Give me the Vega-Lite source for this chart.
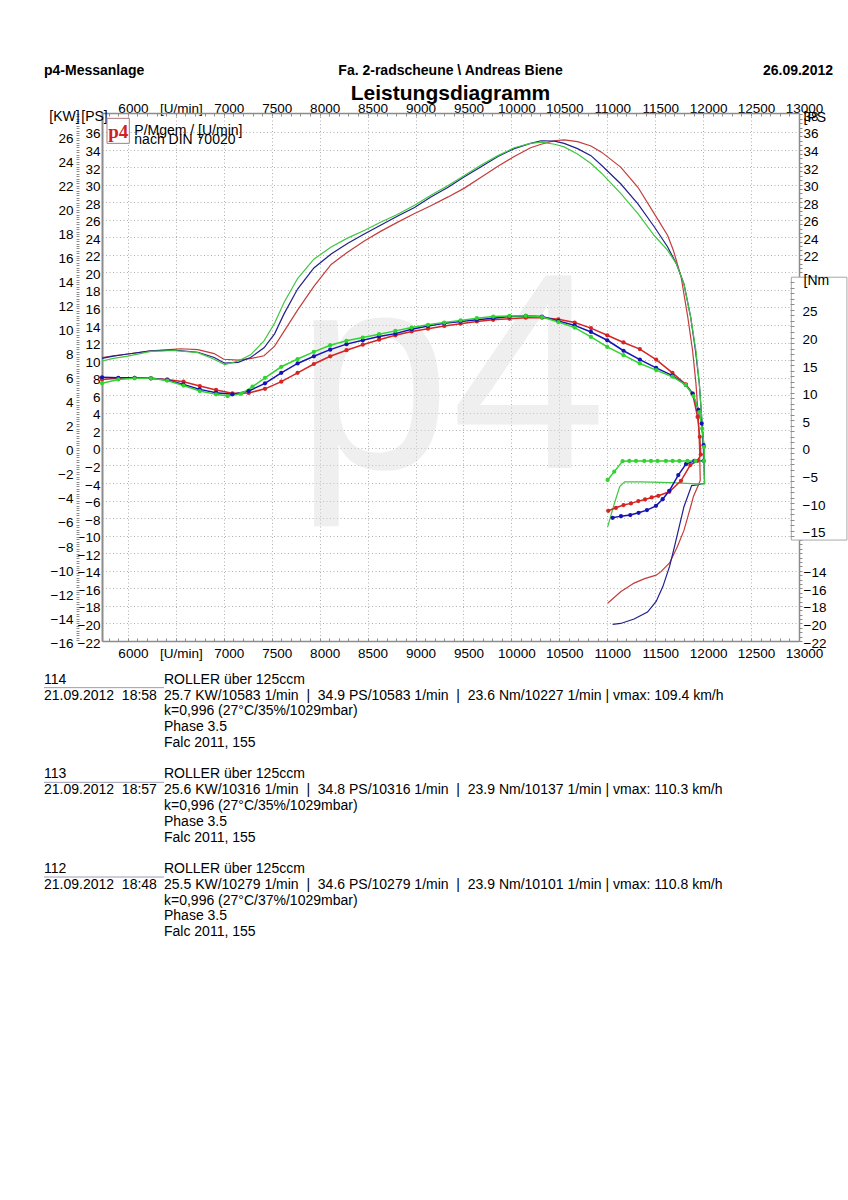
{
"$schema": "https://vega.github.io/schema/vega-lite/v6.json",
"padding": {"left": 43, "top": 55, "right": 0, "bottom": 5},
"background": "white",
"spacing": 23,
"bounds": "flush",
"config": {
  "view": {"stroke": null},
  "font": "Liberation Sans",
  "axis": {"labelFont": "Liberation Sans", "labelFontSize": 13.5, "labelColor": "#000000", "titleFont": "Liberation Sans", "titleFontSize": 14, "titleFontWeight": "normal", "titleColor": "#000000", "domainColor": "#8c8c8c", "tickColor": "#8c8c8c", "labelFlush": false, "labelOverlap": false, "labelBound": false, "grid": false, "ticks": false}
},
"datasets": {
"power": [
{"run":"114","i":1,"rpm":5730,"ps":10.3},{"run":"114","i":2,"rpm":5850,"ps":10.5},{"run":"114","i":3,"rpm":6000,"ps":10.7},{"run":"114","i":4,"rpm":6240,"ps":11.05},{"run":"114","i":5,"rpm":6550,"ps":11.3},{"run":"114","i":6,"rpm":6730,"ps":11.2},{"run":"114","i":7,"rpm":6900,"ps":10.75},{"run":"114","i":8,"rpm":7000,"ps":10.1},{"run":"114","i":9,"rpm":7150,"ps":10.0},{"run":"114","i":10,"rpm":7290,"ps":10.2},{"run":"114","i":11,"rpm":7420,"ps":10.5},{"run":"114","i":12,"rpm":7530,"ps":11.6},{"run":"114","i":13,"rpm":7630,"ps":13.3},{"run":"114","i":14,"rpm":7770,"ps":15.7},{"run":"114","i":15,"rpm":7940,"ps":18.4},{"run":"114","i":16,"rpm":8120,"ps":20.9},{"run":"114","i":17,"rpm":8290,"ps":22.3},{"run":"114","i":18,"rpm":8470,"ps":23.6},{"run":"114","i":19,"rpm":8640,"ps":24.7},{"run":"114","i":20,"rpm":8810,"ps":25.7},{"run":"114","i":21,"rpm":8990,"ps":26.7},{"run":"114","i":22,"rpm":9160,"ps":27.6},{"run":"114","i":23,"rpm":9340,"ps":28.6},{"run":"114","i":24,"rpm":9510,"ps":29.6},{"run":"114","i":25,"rpm":9680,"ps":30.8},{"run":"114","i":26,"rpm":9860,"ps":32.1},{"run":"114","i":27,"rpm":10030,"ps":33.2},{"run":"114","i":28,"rpm":10200,"ps":34.2},{"run":"114","i":29,"rpm":10310,"ps":34.6},{"run":"114","i":30,"rpm":10450,"ps":35.0},{"run":"114","i":31,"rpm":10550,"ps":35.1},{"run":"114","i":32,"rpm":10690,"ps":34.9},{"run":"114","i":33,"rpm":10830,"ps":34.4},{"run":"114","i":34,"rpm":10940,"ps":33.7},{"run":"114","i":35,"rpm":11140,"ps":32.0},{"run":"114","i":36,"rpm":11320,"ps":29.7},{"run":"114","i":37,"rpm":11490,"ps":26.7},{"run":"114","i":38,"rpm":11630,"ps":24.2},{"run":"114","i":39,"rpm":11690,"ps":22.5},{"run":"114","i":40,"rpm":11770,"ps":19.5},{"run":"114","i":41,"rpm":11840,"ps":14.9},{"run":"114","i":42,"rpm":11890,"ps":11.1},{"run":"114","i":43,"rpm":11925,"ps":7.35},{"run":"114","i":44,"rpm":11950,"ps":3.5},{"run":"114","i":45,"rpm":11963,"ps":-0.25},{"run":"114","i":46,"rpm":11970,"ps":-3.7},{"run":"114","i":47,"rpm":11955,"ps":-4.1},{"run":"114","i":48,"rpm":11900,"ps":-5.5},{"run":"114","i":49,"rpm":11870,"ps":-6.7},{"run":"114","i":50,"rpm":11800,"ps":-9.4},{"run":"114","i":51,"rpm":11730,"ps":-11.3},{"run":"114","i":52,"rpm":11650,"ps":-13.1},{"run":"114","i":53,"rpm":11560,"ps":-14.1},{"run":"114","i":54,"rpm":11510,"ps":-14.5},{"run":"114","i":55,"rpm":11390,"ps":-14.9},{"run":"114","i":56,"rpm":11280,"ps":-15.4},{"run":"114","i":57,"rpm":11140,"ps":-16.4},{"run":"114","i":58,"rpm":11004,"ps":-17.7},
{"run":"113","i":1,"rpm":5730,"ps":10.2},{"run":"113","i":2,"rpm":5850,"ps":10.45},{"run":"113","i":3,"rpm":6000,"ps":10.7},{"run":"113","i":4,"rpm":6240,"ps":11.05},{"run":"113","i":5,"rpm":6480,"ps":11.15},{"run":"113","i":6,"rpm":6730,"ps":10.9},{"run":"113","i":7,"rpm":6900,"ps":10.3},{"run":"113","i":8,"rpm":7010,"ps":9.65},{"run":"113","i":9,"rpm":7150,"ps":9.75},{"run":"113","i":10,"rpm":7280,"ps":10.3},{"run":"113","i":11,"rpm":7420,"ps":11.4},{"run":"113","i":12,"rpm":7530,"ps":13.0},{"run":"113","i":13,"rpm":7630,"ps":15.3},{"run":"113","i":14,"rpm":7770,"ps":18.1},{"run":"113","i":15,"rpm":7940,"ps":20.5},{"run":"113","i":16,"rpm":8120,"ps":22.1},{"run":"113","i":17,"rpm":8290,"ps":23.3},{"run":"113","i":18,"rpm":8470,"ps":24.4},{"run":"113","i":19,"rpm":8640,"ps":25.4},{"run":"113","i":20,"rpm":8810,"ps":26.4},{"run":"113","i":21,"rpm":8990,"ps":27.4},{"run":"113","i":22,"rpm":9160,"ps":28.6},{"run":"113","i":23,"rpm":9340,"ps":29.7},{"run":"113","i":24,"rpm":9510,"ps":30.9},{"run":"113","i":25,"rpm":9680,"ps":32.0},{"run":"113","i":26,"rpm":9860,"ps":33.2},{"run":"113","i":27,"rpm":10030,"ps":34.1},{"run":"113","i":28,"rpm":10200,"ps":34.7},{"run":"113","i":29,"rpm":10310,"ps":35.0},{"run":"113","i":30,"rpm":10450,"ps":34.95},{"run":"113","i":31,"rpm":10550,"ps":34.7},{"run":"113","i":32,"rpm":10690,"ps":34.1},{"run":"113","i":33,"rpm":10830,"ps":33.3},{"run":"113","i":34,"rpm":10940,"ps":32.2},{"run":"113","i":35,"rpm":11140,"ps":30.1},{"run":"113","i":36,"rpm":11320,"ps":27.8},{"run":"113","i":37,"rpm":11490,"ps":25.2},{"run":"113","i":38,"rpm":11630,"ps":22.9},{"run":"113","i":39,"rpm":11720,"ps":21.0},{"run":"113","i":40,"rpm":11800,"ps":18.7},{"run":"113","i":41,"rpm":11870,"ps":14.9},{"run":"113","i":42,"rpm":11920,"ps":11.1},{"run":"113","i":43,"rpm":11960,"ps":7.35},{"run":"113","i":44,"rpm":11985,"ps":3.5},{"run":"113","i":45,"rpm":12005,"ps":-0.25},{"run":"113","i":46,"rpm":12015,"ps":-4.0},{"run":"113","i":47,"rpm":11950,"ps":-4.2},{"run":"113","i":48,"rpm":11880,"ps":-4.3},{"run":"113","i":49,"rpm":11800,"ps":-6.7},{"run":"113","i":50,"rpm":11750,"ps":-9.0},{"run":"113","i":51,"rpm":11700,"ps":-11.3},{"run":"113","i":52,"rpm":11650,"ps":-13.5},{"run":"113","i":53,"rpm":11580,"ps":-15.8},{"run":"113","i":54,"rpm":11510,"ps":-17.5},{"run":"113","i":55,"rpm":11420,"ps":-18.7},{"run":"113","i":56,"rpm":11280,"ps":-19.5},{"run":"113","i":57,"rpm":11140,"ps":-20.0},{"run":"113","i":58,"rpm":11056,"ps":-20.1},
{"run":"112","i":1,"rpm":5730,"ps":9.9},{"run":"112","i":2,"rpm":5850,"ps":10.2},{"run":"112","i":3,"rpm":6000,"ps":10.45},{"run":"112","i":4,"rpm":6240,"ps":11.0},{"run":"112","i":5,"rpm":6480,"ps":11.1},{"run":"112","i":6,"rpm":6730,"ps":10.85},{"run":"112","i":7,"rpm":6900,"ps":10.1},{"run":"112","i":8,"rpm":7010,"ps":9.5},{"run":"112","i":9,"rpm":7150,"ps":9.9},{"run":"112","i":10,"rpm":7280,"ps":10.6},{"run":"112","i":11,"rpm":7420,"ps":12.2},{"run":"112","i":12,"rpm":7530,"ps":14.2},{"run":"112","i":13,"rpm":7630,"ps":16.6},{"run":"112","i":14,"rpm":7770,"ps":19.3},{"run":"112","i":15,"rpm":7940,"ps":21.5},{"run":"112","i":16,"rpm":8120,"ps":22.9},{"run":"112","i":17,"rpm":8290,"ps":23.9},{"run":"112","i":18,"rpm":8470,"ps":24.8},{"run":"112","i":19,"rpm":8640,"ps":25.75},{"run":"112","i":20,"rpm":8810,"ps":26.6},{"run":"112","i":21,"rpm":8990,"ps":27.65},{"run":"112","i":22,"rpm":9160,"ps":28.8},{"run":"112","i":23,"rpm":9340,"ps":29.9},{"run":"112","i":24,"rpm":9510,"ps":31.05},{"run":"112","i":25,"rpm":9680,"ps":32.2},{"run":"112","i":26,"rpm":9860,"ps":33.3},{"run":"112","i":27,"rpm":10030,"ps":34.2},{"run":"112","i":28,"rpm":10200,"ps":34.7},{"run":"112","i":29,"rpm":10310,"ps":34.85},{"run":"112","i":30,"rpm":10450,"ps":34.6},{"run":"112","i":31,"rpm":10550,"ps":34.3},{"run":"112","i":32,"rpm":10690,"ps":33.5},{"run":"112","i":33,"rpm":10830,"ps":32.4},{"run":"112","i":34,"rpm":10940,"ps":31.3},{"run":"112","i":35,"rpm":11140,"ps":29.0},{"run":"112","i":36,"rpm":11320,"ps":26.7},{"run":"112","i":37,"rpm":11490,"ps":24.2},{"run":"112","i":38,"rpm":11630,"ps":22.5},{"run":"112","i":39,"rpm":11720,"ps":21.0},{"run":"112","i":40,"rpm":11800,"ps":18.7},{"run":"112","i":41,"rpm":11870,"ps":14.9},{"run":"112","i":42,"rpm":11925,"ps":11.1},{"run":"112","i":43,"rpm":11960,"ps":7.35},{"run":"112","i":44,"rpm":11985,"ps":3.5},{"run":"112","i":45,"rpm":12005,"ps":-0.25},{"run":"112","i":46,"rpm":12015,"ps":-4.1},{"run":"112","i":47,"rpm":11940,"ps":-4.1},{"run":"112","i":48,"rpm":11660,"ps":-3.95},{"run":"112","i":49,"rpm":11350,"ps":-3.86},{"run":"112","i":50,"rpm":11180,"ps":-3.86},{"run":"112","i":51,"rpm":11130,"ps":-4.4},{"run":"112","i":52,"rpm":11075,"ps":-6.3},{"run":"112","i":53,"rpm":11004,"ps":-9.0}
],
"torque": [
{"run":"114","i":1,"rpm":5730,"nm":12.4},{"run":"114","i":2,"rpm":5900,"nm":12.6},{"run":"114","i":3,"rpm":6070,"nm":12.7},{"run":"114","i":4,"rpm":6240,"nm":12.6},{"run":"114","i":5,"rpm":6410,"nm":12.4},{"run":"114","i":6,"rpm":6580,"nm":12.0},{"run":"114","i":7,"rpm":6750,"nm":11.2},{"run":"114","i":8,"rpm":6920,"nm":10.5},{"run":"114","i":9,"rpm":7090,"nm":9.9},{"run":"114","i":10,"rpm":7260,"nm":9.95},{"run":"114","i":11,"rpm":7430,"nm":10.7},{"run":"114","i":12,"rpm":7600,"nm":12.0},{"run":"114","i":13,"rpm":7770,"nm":13.6},{"run":"114","i":14,"rpm":7940,"nm":15.2},{"run":"114","i":15,"rpm":8110,"nm":16.6},{"run":"114","i":16,"rpm":8280,"nm":17.7},{"run":"114","i":17,"rpm":8450,"nm":18.7},{"run":"114","i":18,"rpm":8620,"nm":19.6},{"run":"114","i":19,"rpm":8790,"nm":20.4},{"run":"114","i":20,"rpm":8960,"nm":21.1},{"run":"114","i":21,"rpm":9130,"nm":21.6},{"run":"114","i":22,"rpm":9300,"nm":22.1},{"run":"114","i":23,"rpm":9470,"nm":22.5},{"run":"114","i":24,"rpm":9640,"nm":22.9},{"run":"114","i":25,"rpm":9810,"nm":23.2},{"run":"114","i":26,"rpm":9980,"nm":23.4},{"run":"114","i":27,"rpm":10150,"nm":23.6},{"run":"114","i":28,"rpm":10320,"nm":23.6},{"run":"114","i":29,"rpm":10490,"nm":23.3},{"run":"114","i":30,"rpm":10660,"nm":22.7},{"run":"114","i":31,"rpm":10830,"nm":21.7},{"run":"114","i":32,"rpm":11000,"nm":20.4},{"run":"114","i":33,"rpm":11170,"nm":19.1},{"run":"114","i":34,"rpm":11340,"nm":17.9},{"run":"114","i":35,"rpm":11510,"nm":16.0},{"run":"114","i":36,"rpm":11680,"nm":13.6},{"run":"114","i":37,"rpm":11820,"nm":11.5},{"run":"114","i":38,"rpm":11890,"nm":9.9},{"run":"114","i":39,"rpm":11942,"nm":5.6},{"run":"114","i":40,"rpm":11965,"nm":2.0},{"run":"114","i":41,"rpm":11975,"nm":-1.2},{"run":"114","i":42,"rpm":11942,"nm":-2.33},{"run":"114","i":43,"rpm":11866,"nm":-3.1},{"run":"114","i":44,"rpm":11769,"nm":-5.96},{"run":"114","i":45,"rpm":11647,"nm":-7.95},{"run":"114","i":46,"rpm":11533,"nm":-8.68},{"run":"114","i":47,"rpm":11463,"nm":-8.97},{"run":"114","i":48,"rpm":11394,"nm":-9.33},{"run":"114","i":49,"rpm":11324,"nm":-9.64},{"run":"114","i":50,"rpm":11247,"nm":-10.05},{"run":"114","i":51,"rpm":11170,"nm":-10.36},{"run":"114","i":52,"rpm":11091,"nm":-10.85},{"run":"114","i":53,"rpm":11010,"nm":-11.39},
{"run":"113","i":1,"rpm":5730,"nm":12.8},{"run":"113","i":2,"rpm":5900,"nm":12.7},{"run":"113","i":3,"rpm":6070,"nm":12.7},{"run":"113","i":4,"rpm":6240,"nm":12.6},{"run":"113","i":5,"rpm":6410,"nm":12.3},{"run":"113","i":6,"rpm":6580,"nm":11.5},{"run":"113","i":7,"rpm":6750,"nm":10.6},{"run":"113","i":8,"rpm":6920,"nm":10.0},{"run":"113","i":9,"rpm":7090,"nm":9.7},{"run":"113","i":10,"rpm":7260,"nm":10.3},{"run":"113","i":11,"rpm":7430,"nm":11.7},{"run":"113","i":12,"rpm":7600,"nm":13.6},{"run":"113","i":13,"rpm":7770,"nm":15.3},{"run":"113","i":14,"rpm":7940,"nm":16.6},{"run":"113","i":15,"rpm":8110,"nm":17.8},{"run":"113","i":16,"rpm":8280,"nm":18.8},{"run":"113","i":17,"rpm":8450,"nm":19.5},{"run":"113","i":18,"rpm":8620,"nm":20.2},{"run":"113","i":19,"rpm":8790,"nm":20.7},{"run":"113","i":20,"rpm":8960,"nm":21.5},{"run":"113","i":21,"rpm":9130,"nm":22.1},{"run":"113","i":22,"rpm":9300,"nm":22.6},{"run":"113","i":23,"rpm":9470,"nm":22.9},{"run":"113","i":24,"rpm":9640,"nm":23.2},{"run":"113","i":25,"rpm":9810,"nm":23.5},{"run":"113","i":26,"rpm":9980,"nm":23.8},{"run":"113","i":27,"rpm":10150,"nm":23.9},{"run":"113","i":28,"rpm":10320,"nm":23.8},{"run":"113","i":29,"rpm":10490,"nm":23.0},{"run":"113","i":30,"rpm":10660,"nm":22.2},{"run":"113","i":31,"rpm":10830,"nm":21.0},{"run":"113","i":32,"rpm":11000,"nm":19.5},{"run":"113","i":33,"rpm":11170,"nm":17.6},{"run":"113","i":34,"rpm":11340,"nm":16.0},{"run":"113","i":35,"rpm":11510,"nm":14.5},{"run":"113","i":36,"rpm":11680,"nm":13.1},{"run":"113","i":37,"rpm":11820,"nm":11.4},{"run":"113","i":38,"rpm":11890,"nm":9.8},{"run":"113","i":39,"rpm":11950,"nm":6.9},{"run":"113","i":40,"rpm":11985,"nm":4.4},{"run":"113","i":41,"rpm":12005,"nm":0.5},{"run":"113","i":42,"rpm":12005,"nm":-2.33},{"run":"113","i":43,"rpm":11908,"nm":-2.33},{"run":"113","i":44,"rpm":11821,"nm":-2.93},{"run":"113","i":45,"rpm":11741,"nm":-4.93},{"run":"113","i":46,"rpm":11647,"nm":-7.77},{"run":"113","i":47,"rpm":11578,"nm":-9.3},{"run":"113","i":48,"rpm":11508,"nm":-10.5},{"run":"113","i":49,"rpm":11414,"nm":-11.27},{"run":"113","i":50,"rpm":11327,"nm":-11.75},{"run":"113","i":51,"rpm":11240,"nm":-12.17},{"run":"113","i":52,"rpm":11143,"nm":-12.36},{"run":"113","i":53,"rpm":11056,"nm":-12.66},
{"run":"112","i":1,"rpm":5730,"nm":11.7},{"run":"112","i":2,"rpm":5900,"nm":12.4},{"run":"112","i":3,"rpm":6070,"nm":12.6},{"run":"112","i":4,"rpm":6240,"nm":12.6},{"run":"112","i":5,"rpm":6410,"nm":12.2},{"run":"112","i":6,"rpm":6580,"nm":11.3},{"run":"112","i":7,"rpm":6750,"nm":10.3},{"run":"112","i":8,"rpm":6920,"nm":9.7},{"run":"112","i":9,"rpm":7040,"nm":9.4},{"run":"112","i":10,"rpm":7180,"nm":9.8},{"run":"112","i":11,"rpm":7300,"nm":11.1},{"run":"112","i":12,"rpm":7430,"nm":12.7},{"run":"112","i":13,"rpm":7600,"nm":14.7},{"run":"112","i":14,"rpm":7770,"nm":16.1},{"run":"112","i":15,"rpm":7940,"nm":17.4},{"run":"112","i":16,"rpm":8110,"nm":18.6},{"run":"112","i":17,"rpm":8280,"nm":19.4},{"run":"112","i":18,"rpm":8450,"nm":20.0},{"run":"112","i":19,"rpm":8620,"nm":20.6},{"run":"112","i":20,"rpm":8790,"nm":21.2},{"run":"112","i":21,"rpm":8960,"nm":21.8},{"run":"112","i":22,"rpm":9130,"nm":22.3},{"run":"112","i":23,"rpm":9300,"nm":22.7},{"run":"112","i":24,"rpm":9470,"nm":23.1},{"run":"112","i":25,"rpm":9640,"nm":23.5},{"run":"112","i":26,"rpm":9810,"nm":23.8},{"run":"112","i":27,"rpm":9980,"nm":23.9},{"run":"112","i":28,"rpm":10150,"nm":23.9},{"run":"112","i":29,"rpm":10320,"nm":23.7},{"run":"112","i":30,"rpm":10490,"nm":22.8},{"run":"112","i":31,"rpm":10660,"nm":21.8},{"run":"112","i":32,"rpm":10830,"nm":20.1},{"run":"112","i":33,"rpm":11000,"nm":18.3},{"run":"112","i":34,"rpm":11170,"nm":16.8},{"run":"112","i":35,"rpm":11340,"nm":15.3},{"run":"112","i":36,"rpm":11510,"nm":14.1},{"run":"112","i":37,"rpm":11680,"nm":12.9},{"run":"112","i":38,"rpm":11820,"nm":11.4},{"run":"112","i":39,"rpm":11900,"nm":9.4},{"run":"112","i":40,"rpm":11960,"nm":6.5},{"run":"112","i":41,"rpm":11990,"nm":3.5},{"run":"112","i":42,"rpm":12010,"nm":0.2},{"run":"112","i":43,"rpm":12010,"nm":-2.35},{"run":"112","i":44,"rpm":11920,"nm":-2.35},{"run":"112","i":45,"rpm":11838,"nm":-2.35},{"run":"112","i":46,"rpm":11752,"nm":-2.35},{"run":"112","i":47,"rpm":11682,"nm":-2.35},{"run":"112","i":48,"rpm":11612,"nm":-2.35},{"run":"112","i":49,"rpm":11525,"nm":-2.35},{"run":"112","i":50,"rpm":11456,"nm":-2.35},{"run":"112","i":51,"rpm":11386,"nm":-2.35},{"run":"112","i":52,"rpm":11300,"nm":-2.35},{"run":"112","i":53,"rpm":11230,"nm":-2.35},{"run":"112","i":54,"rpm":11160,"nm":-2.4},{"run":"112","i":55,"rpm":11073,"nm":-4.3},{"run":"112","i":56,"rpm":11004,"nm":-5.8}
],
"footer": [
{"rec":"114","ln":1,"col":"a","text":"114"},
{"rec":"114","ln":1,"col":"b","text":"ROLLER über 125ccm"},
{"rec":"114","ln":2,"col":"a","text":"21.09.2012\u00a0\u00a018:58"},
{"rec":"114","ln":2,"col":"b","text":"25.7 KW/10583 1/min\u00a0\u00a0|\u00a0\u00a034.9 PS/10583 1/min\u00a0\u00a0|\u00a0\u00a023.6 Nm/10227 1/min | vmax: 109.4 km/h"},
{"rec":"114","ln":3,"col":"b","text":"k=0,996 (27°C/35%/1029mbar)"},
{"rec":"114","ln":4,"col":"b","text":"Phase 3.5"},
{"rec":"114","ln":5,"col":"b","text":"Falc 2011, 155"},
{"rec":"113","ln":1,"col":"a","text":"113"},
{"rec":"113","ln":1,"col":"b","text":"ROLLER über 125ccm"},
{"rec":"113","ln":2,"col":"a","text":"21.09.2012\u00a0\u00a018:57"},
{"rec":"113","ln":2,"col":"b","text":"25.6 KW/10316 1/min\u00a0\u00a0|\u00a0\u00a034.8 PS/10316 1/min\u00a0\u00a0|\u00a0\u00a023.9 Nm/10137 1/min | vmax: 110.3 km/h"},
{"rec":"113","ln":3,"col":"b","text":"k=0,996 (27°C/35%/1029mbar)"},
{"rec":"113","ln":4,"col":"b","text":"Phase 3.5"},
{"rec":"113","ln":5,"col":"b","text":"Falc 2011, 155"},
{"rec":"112","ln":1,"col":"a","text":"112"},
{"rec":"112","ln":1,"col":"b","text":"ROLLER über 125ccm"},
{"rec":"112","ln":2,"col":"a","text":"21.09.2012\u00a0\u00a018:48"},
{"rec":"112","ln":2,"col":"b","text":"25.5 KW/10279 1/min\u00a0\u00a0|\u00a0\u00a034.6 PS/10279 1/min\u00a0\u00a0|\u00a0\u00a023.9 Nm/10101 1/min | vmax: 110.8 km/h"},
{"rec":"112","ln":3,"col":"b","text":"k=0,996 (27°C/37%/1029mbar)"},
{"rec":"112","ln":4,"col":"b","text":"Phase 3.5"},
{"rec":"112","ln":5,"col":"b","text":"Falc 2011, 155"}
]
},
"vconcat": [
{
  "width": 697, "height": 35,
  "layer": [
    {"data": {"values": [{"row": "info", "slot": "left", "text": "p4-Messanlage"}]},
     "mark": {"type": "text", "align": "left", "baseline": "alphabetic", "font": "Liberation Sans", "fontSize": 14, "fontWeight": "bold", "color": "#000000"},
     "encoding": {
       "x": {"field": "slot", "type": "nominal", "scale": {"type": "point", "domain": ["left", "right"], "range": [-58, 731], "padding": 0}, "axis": null},
       "y": {"field": "row", "type": "nominal", "scale": {"type": "point", "domain": ["info", "title"], "range": [20, 45], "padding": 0}, "axis": null},
       "text": {"field": "text"}}},
    {"data": {"values": [{"row": "info", "slot": "right", "text": "26.09.2012"}]},
     "mark": {"type": "text", "align": "right", "baseline": "alphabetic", "font": "Liberation Sans", "fontSize": 14, "fontWeight": "bold", "color": "#000000"},
     "encoding": {
       "x": {"field": "slot", "type": "nominal", "scale": {"type": "point", "domain": ["left", "right"], "range": [-58, 731], "padding": 0}, "axis": null},
       "y": {"field": "row", "type": "nominal", "scale": {"type": "point", "domain": ["info", "title"], "range": [20, 45], "padding": 0}, "axis": null},
       "text": {"field": "text"}}},
    {"data": {"values": [{"row": "info", "text": "Fa. 2-radscheune \\ Andreas Biene"}]},
     "mark": {"type": "text", "align": "center", "baseline": "alphabetic", "font": "Liberation Sans", "fontSize": 14, "fontWeight": "bold", "color": "#000000"},
     "encoding": {
       "y": {"field": "row", "type": "nominal", "scale": {"type": "point", "domain": ["info", "title"], "range": [20, 45], "padding": 0}, "axis": null},
       "text": {"field": "text"}}},
    {"data": {"values": [{"row": "title", "text": "Leistungsdiagramm"}]},
     "mark": {"type": "text", "align": "center", "baseline": "alphabetic", "font": "Liberation Sans", "fontSize": 21, "fontWeight": "bold", "color": "#000000"},
     "encoding": {
       "y": {"field": "row", "type": "nominal", "scale": {"type": "point", "domain": ["info", "title"], "range": [20, 45], "padding": 0}, "axis": null},
       "text": {"field": "text"}}}
  ]
},
{
  "width": 697, "height": 528,
  "resolve": {"scale": {"y": "independent", "color": "independent"}, "axis": {"x": "independent", "y": "independent"}},
  "layer": [
    {
      "resolve": {"axis": {"x": "independent", "y": "independent"}},
      "layer": [
        {"data": {"values": [{}]},
         "mark": {"type": "text", "text": "p4", "font": "Liberation Sans", "fontSize": 280, "align": "center", "baseline": "alphabetic", "color": "#dcdcdc", "opacity": 0.45},
         "encoding": {
           "x": {"datum": 9370, "type": "quantitative", "scale": {"domain": [5730, 13000], "nice": false, "zero": false}, "axis": null},
           "y": {"datum": -2.3, "type": "quantitative", "scale": {"domain": [-22, 38.16], "nice": false, "zero": false}, "axis": null}}},
        {"data": {"values": [{}]},
         "mark": {"type": "rect", "fill": "#ffffff", "stroke": "#a8a8a8", "strokeWidth": 1},
         "encoding": {
           "x": {"datum": 12920, "type": "quantitative", "scale": {"domain": [5730, 13000], "nice": false, "zero": false},
                 "axis": {"orient": "bottom", "tickCount": 75, "ticks": true, "tickSize": -3, "tickColor": "#8c8c8c", "labels": false, "domain": false, "grid": false, "title": null}},
           "x2": {"datum": 13500},
           "y": {"datum": 19.45, "type": "quantitative", "scale": {"domain": [-22, 38.16], "nice": false, "zero": false},
                 "axis": {"orient": "right", "tickCount": 120, "ticks": true, "tickSize": 3, "labelPadding": 1, "labelOffset": 2,
                          "labelExpr": "(datum.value >= 22 || datum.value <= -14) && datum.value % 2 === 0 ? format(datum.value, 'd') : ''",
                          "domain": true, "domainWidth": 1.5, "grid": false,
                          "title": "[PS", "titleAngle": 0, "titleAlign": "left", "titleBaseline": "middle", "titleX": 4, "titleY": 4}},
           "y2": {"datum": -10.5}}},
        {"data": {"values": [{}]},
         "mark": {"type": "rect", "fill": "#ffffff", "stroke": "#b07a7a", "strokeWidth": 1},
         "encoding": {
           "x": {"datum": 5782, "type": "quantitative", "scale": {"domain": [5730, 13000], "nice": false, "zero": false},
                 "axis": {"orient": "top", "tickCount": 75, "ticks": true, "tickSize": -3, "tickColor": "#8c8c8c", "labels": false, "domain": false, "grid": false, "title": null}},
           "x2": {"datum": 6015},
           "y": {"datum": 37.55, "type": "quantitative", "scale": {"domain": [-22, 38.16], "nice": false, "zero": false}, "axis": null},
           "y2": {"datum": 34.7}}},
        {"data": {"values": [{}]},
         "mark": {"type": "text", "text": "p4", "font": "Liberation Serif", "fontWeight": "bold", "fontSize": 19, "color": "#cc2222", "align": "center", "baseline": "middle"},
         "encoding": {
           "x": {"datum": 5900, "type": "quantitative", "scale": {"domain": [5730, 13000], "nice": false, "zero": false}, "axis": null},
           "y": {"datum": 36.0, "type": "quantitative", "scale": {"domain": [-22, 38.16], "nice": false, "zero": false}, "axis": null}}},
        {"data": {"values": [{}]},
         "mark": {"type": "text", "text": ["P/Mgem / [U/min]", "nach DIN 70020"], "lineHeight": 9, "font": "Liberation Sans", "fontSize": 14, "color": "#000000", "align": "left", "baseline": "alphabetic"},
         "encoding": {
           "x": {"datum": 6067, "type": "quantitative", "scale": {"domain": [5730, 13000], "nice": false, "zero": false}, "axis": null},
           "y": {"datum": 35.65, "type": "quantitative", "scale": {"domain": [-22, 38.16], "nice": false, "zero": false}, "axis": null}}},
        {"data": {"name": "power"},
         "mark": {"type": "line", "strokeWidth": 1.2},
         "encoding": {
           "x": {"field": "rpm", "type": "quantitative", "scale": {"domain": [5730, 13000], "nice": false, "zero": false},
                 "axis": {"orient": "bottom", "values": [6000,6500,7000,7500,8000,8500,9000,9500,10000,10500,11000,11500,12000,12500,13000], "format": "d",
                          "labelExpr": "datum.value === 6500 ? '[U/min]' : datum.label", "labelPadding": 5, "labelOffset": 5, "ticks": false,
                          "domain": true, "domainWidth": 1.5, "grid": true, "gridColor": "#b0b0b0", "gridDash": [1, 2.5], "gridWidth": 1, "title": null}},
           "y": {"field": "ps", "type": "quantitative", "scale": {"domain": [-22, 38.16], "nice": false, "zero": false},
                 "axis": {"orient": "left", "values": [-22,-20,-18,-16,-14,-12,-10,-8,-6,-4,-2,0,2,4,6,8,10,12,14,16,18,20,22,24,26,28,30,32,34,36],
                          "ticks": false, "labelPadding": 2, "labelOffset": 2, "domain": true, "domainWidth": 2,
                          "grid": true, "gridColor": "#b0b0b0", "gridDash": [1, 2.5], "gridWidth": 1,
                          "title": "[PS]", "titleAngle": 0, "titleAlign": "center", "titleBaseline": "middle", "titleX": -8, "titleY": 3}},
           "color": {"field": "run", "type": "nominal", "scale": {"domain": ["114", "113", "112"], "range": ["#c43c3c", "#20208c", "#40c640"]}, "legend": null},
           "order": {"field": "i", "type": "quantitative"}}}
      ]
    },
    {"data": {"name": "torque"},
     "mark": {"type": "line", "strokeWidth": 1.5, "point": {"filled": true, "size": 18}},
     "encoding": {
       "x": {"field": "rpm", "type": "quantitative", "scale": {"domain": [5730, 13000], "nice": false, "zero": false},
             "axis": {"orient": "top", "values": [6000,6500,7000,7500,8000,8500,9000,9500,10000,10500,11000,11500,12000,12500,13000], "format": "d",
                      "labelExpr": "datum.value === 6500 ? '[U/min]' : datum.label", "labelBaseline": "alphabetic", "labelPadding": 1, "labelOffset": 5,
                      "ticks": false, "domain": true, "domainWidth": 1.5, "grid": false, "title": null}},
       "y": {"field": "nm", "type": "quantitative", "scale": {"domain": [-34.98, 60.67], "nice": false, "zero": false},
             "axis": {"orient": "right", "offset": -9, "values": [-16,-15,-14,-13,-12,-11,-10,-9,-8,-7,-6,-5,-4,-3,-2,-1,0,1,2,3,4,5,6,7,8,9,10,11,12,13,14,15,16,17,18,19,20,21,22,23,24,25,26,27,28,29,30],
                      "ticks": true, "tickSize": 4, "tickColor": "#8c8c8c", "labelPadding": 8, "labelOffset": 2,
                      "labelExpr": "datum.value % 5 === 0 && datum.value >= -15 && datum.value <= 25 ? format(datum.value, 'd') : ''",
                      "domain": false, "grid": false, "zindex": 1,
                      "title": "[Nm", "titleAngle": 0, "titleAlign": "left", "titleBaseline": "middle", "titleX": 13, "titleY": 167}},
       "color": {"field": "run", "type": "nominal", "scale": {"domain": ["114", "113", "112"], "range": ["#d42424", "#1414b4", "#30d430"]}, "legend": null},
       "order": {"field": "i", "type": "quantitative"}}},
    {"data": {"values": [{}]},
     "mark": {"type": "rule", "strokeOpacity": 0},
     "encoding": {
       "y": {"datum": 0, "type": "quantitative", "scale": {"domain": [-16.07, 27.86], "nice": false, "zero": false},
             "axis": {"orient": "left", "offset": 23, "tickCount": 220, "ticks": true, "tickSize": 3, "tickColor": "#8c8c8c", "labelPadding": 3, "labelOffset": 3,
                      "labelExpr": "datum.value % 2 === 0 ? format(datum.value, 'd') : ''",
                      "domain": false, "grid": false,
                      "title": "[KW]", "titleAngle": 0, "titleAlign": "center", "titleBaseline": "middle", "titleX": -15, "titleY": 3}}}}
  ]
},
{
  "width": 697, "height": 284,
  "layer": [
    {"data": {"name": "footer"},
     "mark": {"type": "text", "align": "left", "baseline": "middle", "font": "Liberation Sans", "fontSize": 14, "color": "#000000"},
     "encoding": {
       "x": {"field": "col", "type": "nominal", "scale": {"type": "point", "domain": ["a", "b"], "range": [-58, 62], "padding": 0}, "axis": null},
       "y": {"field": "rec", "type": "nominal", "scale": {"type": "band", "domain": ["114", "113", "112"], "paddingInner": 0, "paddingOuter": 0}, "axis": null},
       "yOffset": {"field": "ln", "type": "quantitative", "scale": {"domain": [0, 6], "range": [0, 94.67]}},
       "text": {"field": "text"}}},
    {"data": {"values": [{"rec": "114"}, {"rec": "113"}, {"rec": "112"}]},
     "mark": {"type": "rule", "color": "#9a9ab8", "strokeWidth": 1},
     "encoding": {
       "x": {"datum": "a", "type": "nominal", "scale": {"type": "point", "domain": ["a", "b"], "range": [-58, 62], "padding": 0}, "axis": null},
       "x2": {"datum": "b"},
       "y": {"field": "rec", "type": "nominal", "scale": {"type": "band", "domain": ["114", "113", "112"], "paddingInner": 0, "paddingOuter": 0}, "axis": null},
       "yOffset": {"datum": 1.5, "type": "quantitative", "scale": {"domain": [0, 6], "range": [0, 94.67]}}}}
  ]
}
]
}
